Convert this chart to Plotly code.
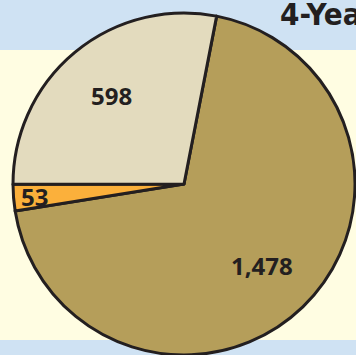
import math
import plotly.graph_objects as go

labels = ["Group A", "Group B", "Group C"]
values = [1478, 53, 598]
colors = ["#b59e5a", "#fbb03b", "#e3dbbe"]
label_radius = [0.66, 0.88, 0.67]
title_text = "4-Year"

W, H = 356, 355
ROT = 11
PIE_L, PIE_R, PIE_T = 13, 355, 13
fig = go.Figure()
fig.add_trace(go.Pie(
    labels=labels, values=values, sort=False, direction="clockwise", rotation=ROT,
    marker=dict(colors=colors, line=dict(color="#231f20", width=3)),
    textinfo="none",
    domain=dict(x=[PIE_L/W, PIE_R/W], y=[0, 1-PIE_T/H]),
    showlegend=False, hoverinfo="none",
))

# value labels placed at each slice's mid-angle, computed from the data
r_px = (PIE_R - PIE_L) / 2
cx_px, cy_px = PIE_L + r_px, PIE_T + r_px
total = sum(values)
cum = 0
for v, rf in zip(values, label_radius):
    mid = math.radians(ROT + 360 * (cum + v / 2) / total)
    cum += v
    x_px = cx_px + rf * r_px * math.sin(mid)
    y_px = cy_px - rf * r_px * math.cos(mid)
    fig.add_annotation(text=f"<b>{v:,}</b>", xref="paper", yref="paper",
                       x=x_px / W, y=1 - y_px / H, showarrow=False,
                       xanchor="center", yanchor="middle",
                       font=dict(family="Open Sans", size=24, color="#231f20"))

fig.add_shape(type="rect", xref="paper", yref="paper", x0=0, x1=1, y0=1-340/H, y1=1-50/H,
              fillcolor="#fffde2", line_width=0, layer="below")
fig.add_annotation(text=f"<b>{title_text}</b>", xref="paper", yref="paper", x=278/W, y=1+6/H,
                   xanchor="left", yanchor="top", showarrow=False,
                   font=dict(family="DejaVu Sans Condensed", size=31, color="#231f20"))
fig.update_layout(width=W, height=H, margin=dict(l=0, r=0, t=0, b=0),
                  paper_bgcolor="#cfe2f3", plot_bgcolor="#cfe2f3")
fig.write_html("out.html")
